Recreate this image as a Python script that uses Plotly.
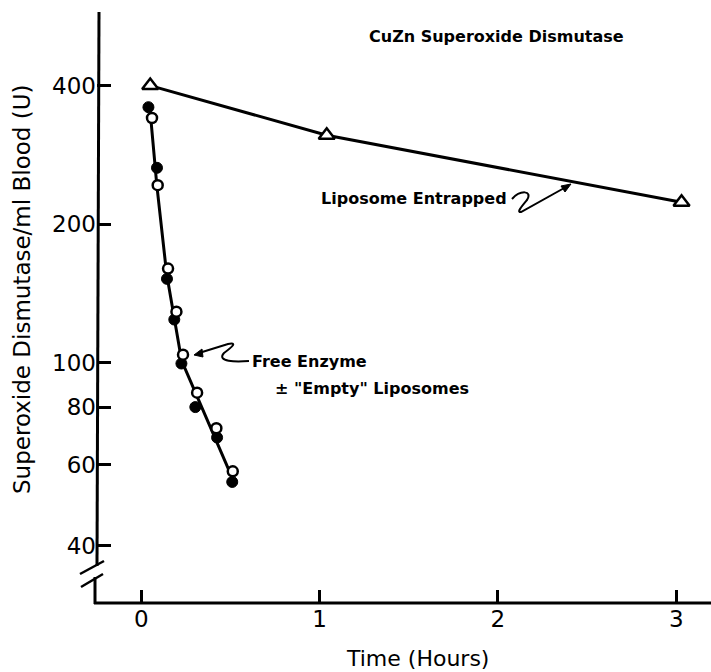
import plotly.graph_objects as go

# ---- data ----
lipo_t = [0.05, 1.04, 3.03]
lipo_v = [400, 312, 223]

filled_t = [0.04, 0.088, 0.144, 0.185, 0.225, 0.303, 0.425, 0.51]
filled_v = [359, 265, 152, 124, 99.5, 80, 68.7, 55]
open_t = [0.06, 0.092, 0.15, 0.197, 0.234, 0.313, 0.421, 0.513]
open_v = [340, 243, 160, 129, 104, 86, 72, 58]
fit_t = [0.049, 0.087, 0.142, 0.226, 0.507]
fit_v = [354, 243, 156, 101, 56.5]

x_ticks = [0, 1, 2, 3]
y_ticks = [40, 60, 80, 100, 200, 400]

W, H = 711, 672
L, R, T, B = 97, 0, 12, 69
PW, PH = W - L - R, H - T - B


def px(x):
    return (x - L) / PW


def py(y):
    return (H - B - y) / PH


fig = go.Figure()

fig.add_trace(go.Scatter(x=fit_t, y=fit_v, mode="lines",
                         line=dict(color="black", width=3), hoverinfo="skip"))
fig.add_trace(go.Scatter(x=lipo_t, y=lipo_v, mode="lines+markers",
                         line=dict(color="black", width=3),
                         marker=dict(symbol="triangle-up", size=14, color="white",
                                     line=dict(color="black", width=2.5))))
fig.add_trace(go.Scatter(x=filled_t, y=filled_v, mode="markers",
                         marker=dict(symbol="circle", size=11, color="black",
                                     line=dict(color="black", width=1))))
fig.add_trace(go.Scatter(x=open_t, y=open_v, mode="markers",
                         marker=dict(symbol="circle", size=10, color="white",
                                     line=dict(color="black", width=2.5))))

ln = dict(color="black", width=3)
shapes = [
    # y axis (upper part)
    dict(type="line", xref="paper", yref="paper", x0=px(99), y0=py(12), x1=px(97), y1=py(566), line=ln),
    # y axis (lower part)
    dict(type="line", xref="paper", yref="paper", x0=px(95), y0=py(577), x1=px(95), y1=py(604), line=ln),
    # break marks
    dict(type="line", xref="paper", yref="paper", x0=px(80), y0=py(574), x1=px(104), y1=py(561), line=dict(color="black", width=2.5)),
    dict(type="line", xref="paper", yref="paper", x0=px(81), y0=py(587), x1=px(103), y1=py(574), line=dict(color="black", width=2.5)),
    # x axis
    dict(type="line", xref="paper", yref="paper", x0=px(94), y0=py(603), x1=px(711), y1=py(603), line=ln),
]


def path(pts, curve=False):
    s = "M %f,%f" % (px(pts[0][0]), py(pts[0][1]))
    i = 1
    if curve:
        while i + 2 <= len(pts) - 1:
            a, b, c = pts[i], pts[i + 1], pts[i + 2]
            s += " C %f,%f %f,%f %f,%f" % (px(a[0]), py(a[1]), px(b[0]), py(b[1]), px(c[0]), py(c[1]))
            i += 3
    for p in pts[i:]:
        s += " L %f,%f" % (px(p[0]), py(p[1]))
    return s


# squiggle for "Liposome Entrapped"
shapes.append(dict(type="path", xref="paper", yref="paper",
                   path=path([(512, 199), (520, 190), (533, 190), (527, 200),
                              (522, 206), (516, 213), (521, 212), (566, 187)], curve=True),
                   line=dict(color="black", width=2)))
shapes.append(dict(type="path", xref="paper", yref="paper",
                   path=path([(571, 184), (561, 186), (565, 192)]) + " Z",
                   fillcolor="black", line=dict(color="black", width=1)))

# squiggle for "Free Enzyme"
shapes.append(dict(type="path", xref="paper", yref="paper",
                   path=path([(249, 361), (236, 362), (216, 362), (224, 353),
                              (232, 347), (238, 342), (228, 344), (199, 353)], curve=True),
                   line=dict(color="black", width=2)))
shapes.append(dict(type="path", xref="paper", yref="paper",
                   path=path([(194, 355), (202, 349), (203, 357)]) + " Z",
                   fillcolor="black", line=dict(color="black", width=1)))

lab = dict(family="DejaVu Sans", size=16, color="black", weight="bold")


def ann(text, x, y, font, **kw):
    d = dict(text=text, xref="paper", yref="paper", x=px(x), y=py(y),
             showarrow=False, font=font, xanchor="center", yanchor="middle")
    d.update(kw)
    return d


annotations = [
    ann("CuZn Superoxide Dismutase", 496, 36, lab),
    ann("Liposome Entrapped", 414, 198, lab),
    ann("Free Enzyme", 309, 361, lab),
    ann("± \"Empty\" Liposomes", 372, 389, lab),
    ann("Time (Hours)", 417, 658, dict(family="DejaVu Sans", size=22, color="black")),
    ann("Superoxide Dismutase/ml Blood (U)", 22, 290,
        dict(family="DejaVu Sans", size=23, color="black"), textangle=-90),
]

fig.update_layout(
    width=W, height=H,
    margin=dict(l=L, r=R, t=T, b=B),
    paper_bgcolor="white", plot_bgcolor="white",
    showlegend=False,
    shapes=shapes,
    annotations=annotations,
    xaxis=dict(range=[(L - 141.3) / 178.3, (W - 141.3) / 178.3],
               tickvals=x_ticks, ticktext=[str(v) for v in x_ticks],
               ticks="inside", ticklen=13, tickwidth=3, tickcolor="black",
               showline=False, showgrid=False, zeroline=False,
               tickfont=dict(family="DejaVu Sans", size=23, color="black")),
    yaxis=dict(type="log", range=[1.4772, 2.762],
               tickvals=y_ticks, ticktext=[str(v) for v in y_ticks],
               ticks="inside", ticklen=14, tickwidth=3, tickcolor="black",
               showline=False, showgrid=False, zeroline=False,
               tickfont=dict(family="DejaVu Sans", size=23, color="black")),
)

fig.write_html("out.html", config={"displayModeBar": False},
               post_script="document.body.style.margin='0';")
